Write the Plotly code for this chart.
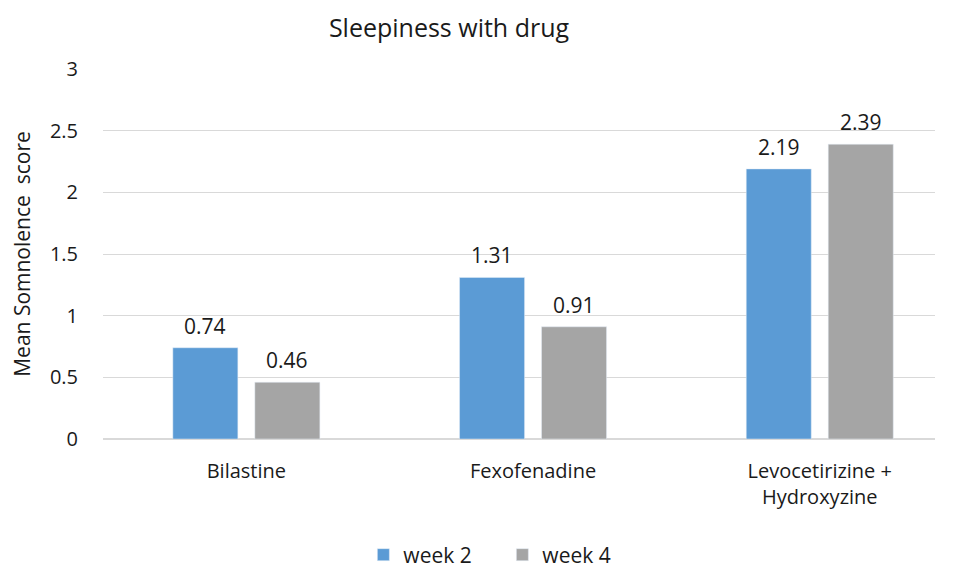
import plotly.graph_objects as go

categories = ["Bilastine", "Fexofenadine", "Levocetirizine +<br>Hydroxyzine"]
week2 = [0.74, 1.31, 2.19]
week4 = [0.46, 0.91, 2.39]
y_ticks = [0, 0.5, 1, 1.5, 2, 2.5, 3]

font_family = "Open Sans, Noto Sans, sans-serif"
txt_color = "#1a1a1a"

fig = go.Figure()
fig.add_trace(go.Bar(name="week 2", x=categories, y=week2, marker_color="#5B9BD5"))
fig.add_trace(go.Bar(name="week 4", x=categories, y=week4, marker_color="#A5A5A5"))

# value labels above bars
for vals, shift in ((week2, -41), (week4, 41)):
    for c, v in zip(categories, vals):
        fig.add_annotation(x=c, y=v, xref="x", yref="y", text=f"{v:.2f}", showarrow=False,
                           xshift=shift, yshift=6, yanchor="bottom",
                           font=dict(size=21, color=txt_color))

fig.update_layout(
    width=954, height=570,
    paper_bgcolor="white", plot_bgcolor="white",
    font=dict(family=font_family, size=19, color=txt_color),
    title=dict(text="Sleepiness with drug", x=441/954, xanchor="center", y=1 - 20/570, yanchor="middle",
               font=dict(size=25, color=txt_color)),
    margin=dict(l=95, r=27, t=61, b=139, autoexpand=False),
    barmode="group", bargap=0.428, bargroupgap=0.207,
    legend=dict(orientation="h", x=0.48, xanchor="center", y=-0.3135, yanchor="middle",
                font=dict(size=21), itemwidth=30, entrywidth=94, entrywidthmode="pixels"),
    showlegend=True,
)
fig.update_yaxes(range=[0, 3], tickvals=y_ticks, ticktext=[str(t) for t in y_ticks],
                 showgrid=True, gridcolor="#D9D9D9", gridwidth=1, zeroline=True,
                 zerolinecolor="#D9D9D9", showline=False, ticks="", ticklabelstandoff=24,
                 tickfont=dict(size=20), automargin=False,
                 title=dict(text="Mean Somnolence  score", font=dict(size=21), standoff=13))
fig.update_xaxes(range=[-0.5, 2.402], showline=False, ticks="", tickfont=dict(size=20),
                 ticklabelstandoff=18, automargin=False)

fig.write_html("out.html")
